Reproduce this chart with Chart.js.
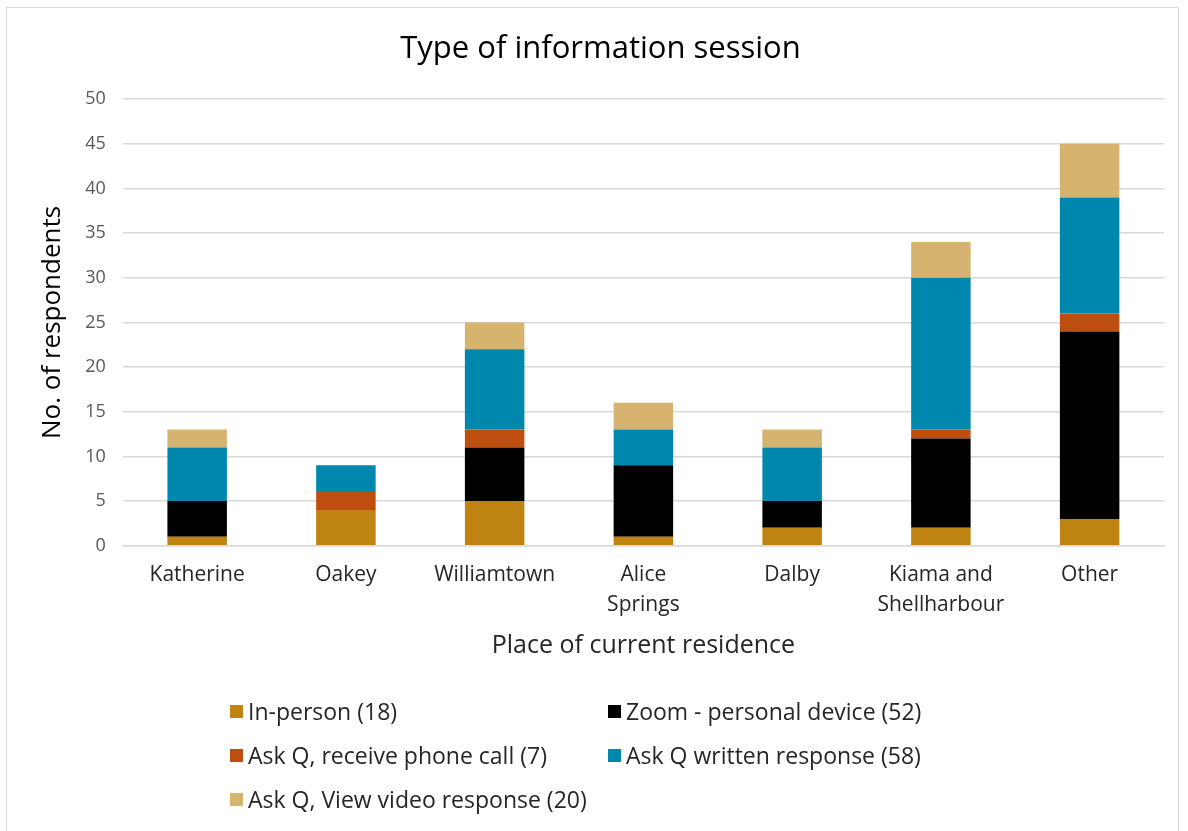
<!DOCTYPE html>
<html>
<head>
<meta charset="utf-8">
<script src="https://cdn.jsdelivr.net/npm/chart.js@4"></script>
<style>
  html, body { margin:0; padding:0; background:#fff; }
  #wrap { position:relative; width:1188px; height:831px; overflow:hidden; font-family:"Open Sans", "Noto Sans", sans-serif; }
  #frame { position:absolute; left:6px; top:7px; width:1173px; height:840px; border:1.5px solid #d9d9d9; box-sizing:border-box; }
  #c { position:absolute; left:0; top:0; }
  #legend { position:absolute; left:0; top:0; width:1188px; }
  .lg-item { position:absolute; display:flex; align-items:center; font-size:23px; color:#262626; white-space:nowrap; transform:translateY(-50%); }
  .lg-box { width:13px; height:13px; margin-right:5px; }
</style>
</head>
<body>
<div id="wrap">
  <div id="frame"></div>
  <canvas id="c" width="1188" height="831"></canvas>
  <div id="legend"></div>
</div>
<script>
/* ── Dados ─────────────────────────────────────────────── */
const categorias = [['Katherine'], ['Oakey'], ['Williamtown'], ['Alice', 'Springs'], ['Dalby'], ['Kiama and', 'Shellharbour'], ['Other']];

const presencial   = [1, 4, 5, 1, 2, 2, 3];
const zoomPessoal  = [4, 0, 6, 8, 3, 10, 21];
const perguntaFone = [0, 2, 2, 0, 0, 1, 2];
const perguntaEscr = [6, 3, 9, 4, 6, 17, 13];
const perguntaVid  = [2, 0, 3, 3, 2, 4, 6];

const rotulos = [
  'In-person (18)',
  'Zoom - personal device (52)',
  'Ask Q, receive phone call (7)',
  'Ask Q written response (58)',
  'Ask Q, View video response (20)',
];
const yTicks = [0, 5, 10, 15, 20, 25, 30, 35, 40, 45, 50];

const CORES = ['#BE8310', '#000000', '#BE4E10', '#0087AE', '#D6B46F'];
const FONTE = '"Open Sans", "Noto Sans", sans-serif';

const series = [presencial, zoomPessoal, perguntaFone, perguntaEscr, perguntaVid];

const chart = new Chart(document.getElementById('c'), {
  type: 'bar',
  data: {
    labels: categorias,
    datasets: series.map((s, i) => ({
      label: rotulos[i],
      data: s,
      backgroundColor: CORES[i],
      borderWidth: 0,
      barPercentage: 0.4,
      categoryPercentage: 1.0,
    })),
  },
  options: {
    responsive: false,
    animation: false,
    layout: { padding: { left: 37, right: 24, top: 25, bottom: 170 } },
    plugins: {
      legend: { display: false },
      tooltip: { enabled: false },
      title: {
        display: true,
        text: 'Type of information session',
        color: '#000',
        font: { family: FONTE, size: 31, weight: 'normal' },
        padding: { top: 6, bottom: 31 },
      },
    },
    scales: {
      x: {
        stacked: true,
        grid: { display: false, drawTicks: false },
        border: { display: true, color: '#d9d9d9', width: 1.5 },
        ticks: { color: '#262626', font: { family: FONTE, size: 21, lineHeight: 1.4 }, padding: 15, maxRotation: 0, autoSkip: false },
        title: { display: true, text: 'Place of current residence', color: '#262626', font: { family: FONTE, size: 25, lineHeight: 0.9 }, padding: { top: 0 } },
      },
      y: {
        stacked: true,
        min: 0, max: 50,
        afterBuildTicks: ax => { ax.ticks = yTicks.map(v => ({ value: v })); },
        grid: { color: '#d9d9d9', lineWidth: 1.5, drawTicks: false },
        border: { display: false },
        ticks: { color: '#595959', font: { family: FONTE, size: 18 }, padding: 17 },
        title: { display: true, text: 'No. of respondents', color: '#000', font: { family: FONTE, size: 26 }, padding: { top: 0, bottom: 0 } },
      },
    },
  },
});

/* ── Legenda em duas colunas ───────────────────────────── */
const POS = [[230, 711], [608, 711], [230, 755], [608, 755], [230, 799]];
document.getElementById('legend').innerHTML = rotulos.map((r, i) =>
  `<div class="lg-item" style="left:${POS[i][0]}px;top:${POS[i][1]}px">
     <div class="lg-box" style="background:${CORES[i]}"></div>${r}
   </div>`).join('');
</script>
</body>
</html>
